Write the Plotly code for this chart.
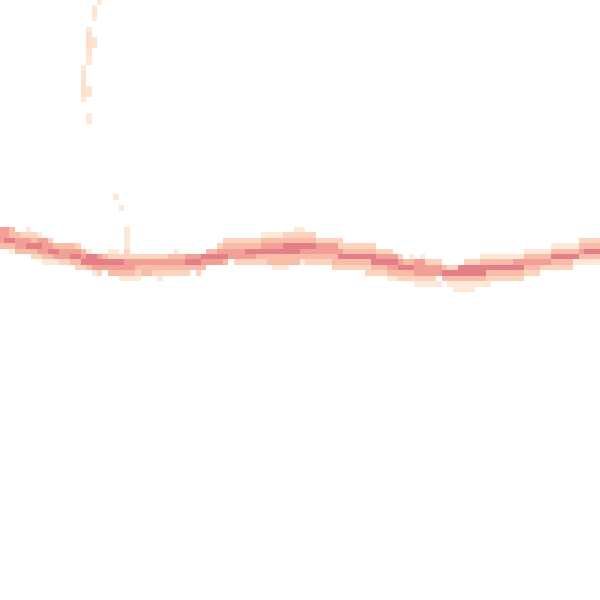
import plotly.graph_objects as go

# grid size (bins)
N_COLS = 110
N_ROWS = 111

# density levels (1 = faintest ... 5 = strongest) per row as runs
# each run: (first_col, last_col, level)
curve_rows = {
    0: [(18, 18, 1)],
    1: [(17, 17, 1)],
    2: [(17, 17, 1.3)],
    3: [(17, 17, 1)],
    5: [(16, 16, 1)],
    6: [(16, 16, 1.5)],
    7: [(16, 16, 1.5), (17, 17, 1.2)],
    8: [(16, 16, 1.5), (17, 17, 1.2)],
    9: [(16, 16, 1.4)],
    10: [(16, 16, 1.2)],
    11: [(16, 16, 1)],
    12: [(15, 15, 1)],
    13: [(15, 15, 1.3)],
    14: [(15, 15, 1.4)],
    15: [(15, 15, 1.4)],
    16: [(15, 15, 1.4), (16, 16, 1.2)],
    17: [(15, 15, 1.4), (16, 16, 1.2)],
    18: [(15, 15, 1)],
    21: [(16, 16, 1)],
    22: [(16, 16, 1)],
    36: [(21, 21, 1)],
    38: [(22, 22, 1)],
}

band_rows = {
    42: [(0, 1, 4), (2, 2, 3), (5, 5, 1), (23, 23, 1), (54, 55, 1)],
    43: [(0, 1, 4), (2, 3, 3), (4, 6, 2), (7, 7, 1), (23, 23, 1),
         (48, 51, 1), (52, 57, 2)],
    44: [(0, 0, 4), (1, 2, 5), (3, 5, 4), (6, 6, 3), (7, 8, 4), (9, 9, 2),
         (23, 23, 1), (41, 47, 2), (48, 57, 3), (58, 62, 2), (106, 109, 2)],
    45: [(0, 2, 3), (3, 4, 4), (5, 7, 5), (8, 9, 4), (10, 13, 3), (14, 14, 2),
         (23, 23, 1), (40, 40, 2), (41, 47, 3), (48, 51, 4), (52, 57, 5),
         (58, 61, 4), (62, 68, 2), (101, 105, 1), (106, 109, 3)],
    46: [(2, 2, 1), (3, 6, 3), (7, 8, 4), (9, 10, 5), (11, 14, 4), (15, 15, 3),
         (16, 16, 1), (20, 21, 1), (23, 23, 2), (32, 32, 1), (38, 39, 3),
         (40, 44, 4), (45, 54, 5), (55, 62, 4), (63, 68, 3), (69, 71, 2),
         (96, 100, 1), (101, 105, 3), (106, 106, 4), (107, 109, 5)],
    47: [(6, 7, 2), (8, 9, 3), (10, 12, 4), (13, 14, 5), (15, 15, 4),
         (16, 17, 5), (18, 18, 4), (19, 19, 3), (20, 30, 2), (31, 33, 3),
         (34, 36, 4), (37, 41, 5), (42, 46, 4), (47, 61, 3), (62, 68, 5),
         (69, 72, 4), (73, 73, 2), (75, 75, 1), (77, 77, 1), (88, 95, 1),
         (96, 100, 3), (101, 105, 5), (106, 109, 3)],
    48: [(8, 10, 1), (11, 12, 2), (13, 14, 3), (15, 22, 5), (23, 33, 4),
         (34, 36, 5), (37, 40, 4), (41, 41, 3), (43, 48, 2), (49, 54, 3),
         (55, 55, 1), (56, 60, 2), (61, 67, 3), (68, 72, 5), (73, 73, 4),
         (74, 75, 3), (76, 77, 4), (78, 80, 2), (85, 87, 2), (88, 93, 3),
         (94, 100, 4), (101, 104, 3), (105, 109, 1)],
    49: [(14, 15, 2), (16, 16, 3), (17, 24, 4), (25, 37, 3), (50, 52, 1),
         (61, 67, 2), (68, 70, 3), (71, 72, 4), (73, 75, 5), (76, 80, 4),
         (81, 81, 3), (82, 83, 2), (84, 95, 5), (96, 98, 3), (99, 104, 2)],
    50: [(17, 17, 1), (18, 18, 2), (20, 24, 3), (25, 25, 2), (26, 27, 3),
         (28, 34, 2), (36, 36, 2), (67, 70, 2), (71, 75, 3), (76, 80, 4),
         (81, 88, 5), (89, 95, 3), (96, 98, 2)],
    51: [(22, 25, 1), (29, 29, 1), (71, 72, 1), (73, 79, 2), (81, 88, 3),
         (89, 95, 2)],
    52: [(76, 80, 1), (82, 89, 1)],
    53: [(83, 86, 1)],
}

# colours of the density levels
level_colors = [
    [0.0, "rgb(254,233,216)"],
    [0.25, "rgb(252,212,190)"],
    [0.5, "rgb(249,188,168)"],
    [0.75, "rgb(242,160,150)"],
    [1.0, "rgb(228,126,136)"],
]

z = [[None] * N_COLS for _ in range(N_ROWS)]
for rows in (curve_rows, band_rows):
    for r, runs in rows.items():
        for c0, c1, lev in runs:
            for c in range(c0, c1 + 1):
                z[r][c] = lev

fig = go.Figure(
    go.Heatmap(
        z=z,
        x=list(range(N_COLS)),
        y=list(range(N_ROWS)),
        colorscale=level_colors,
        zmin=1,
        zmax=5,
        showscale=False,
        hoverinfo="skip",
    )
)
fig.update_layout(
    width=600,
    height=600,
    margin=dict(l=0, r=0, t=0, b=0),
    paper_bgcolor="white",
    plot_bgcolor="white",
    xaxis=dict(visible=False, range=[-0.226, 109.46]),
    yaxis=dict(visible=False, range=[110.38, -0.423]),
)
fig.write_html(
    "out.html",
    config={"displayModeBar": False},
    post_script="document.body.style.margin='0px';document.body.style.padding='0px';",
)
